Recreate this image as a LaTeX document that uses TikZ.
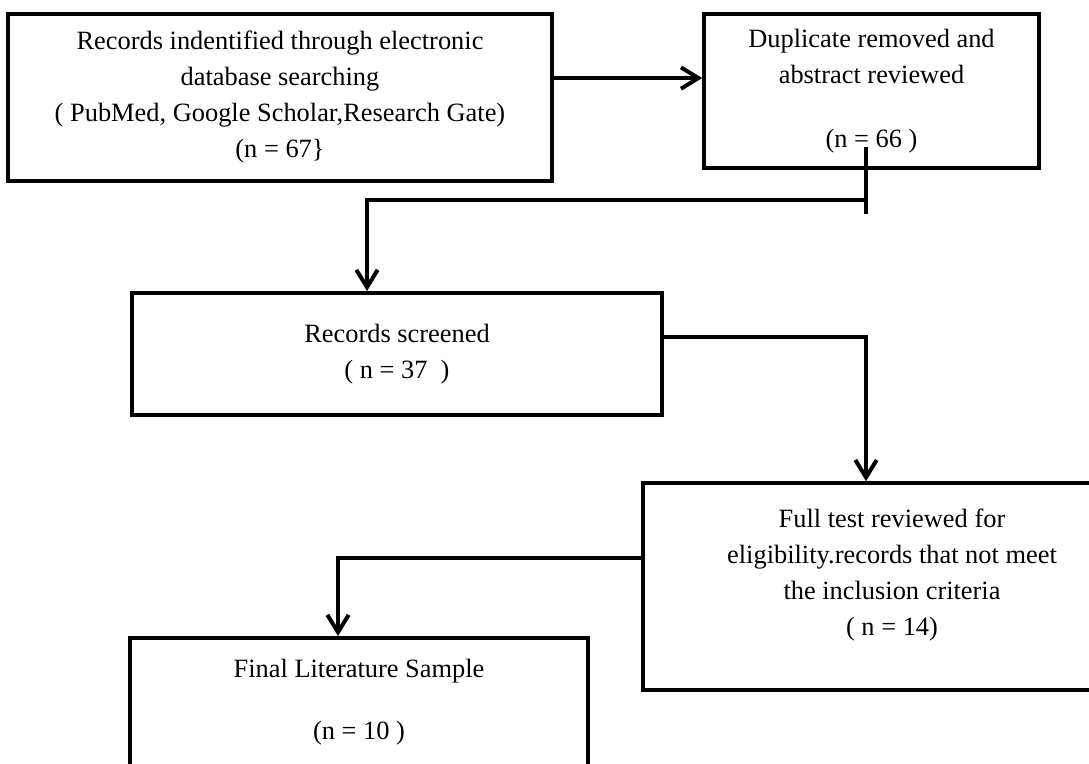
\documentclass[tikz,border=0pt]{standalone}
\usepackage{fontspec}
\setmainfont{Liberation Serif}
\usetikzlibrary{arrows.meta,positioning}

\begin{document}
\begin{tikzpicture}[x=0.75pt,y=-0.75pt,
  box/.style={draw,rectangle,line width=3pt,inner sep=0pt,align=center,font=\fontsize{19.8}{27}\selectfont},
  flow/.style={line width=3pt,-{Straight Barb[length=13pt,width=16pt]}}]

\useasboundingbox (0,0) rectangle (1089,764);
\clip (0,0) rectangle (1089,764);

  \node[box,minimum width=408pt,minimum height=125pt] (rec) at (280,97.5)
    {Records indentified through electronic\\database searching\\( PubMed, Google Scholar,Research Gate)\\(n = 67\}};
  \node[box,minimum width=251pt,minimum height=115.5pt] (dup) at (871.5,91)
    {Duplicate removed and\\abstract reviewed\\[21pt](n = 66 )};
  \node[box,minimum width=397.5pt,minimum height=91.5pt] (scr) at (397,354)
    {Records screened\\( n = 37\ \ )};
  \node[box,minimum width=373.5pt,minimum height=155pt] (elig) at (892,586.5)
    {Full test reviewed for\\eligibility.records that not meet\\the inclusion criteria\\( n = 14)\\[-6pt]\mbox{}};
  \node[box,minimum width=343.5pt,minimum height=96pt] (fin) at (359,702)
    {Final Literature Sample\\[19.5pt](n = 10 )};

  \coordinate (tee) at (866,200);

  \draw[flow] ([yshift=14.6pt]rec.east) -- ([yshift=14.6pt]rec.east -| dup.west);
  \draw[line width=3pt] ([xshift=-4.1pt,yshift=17pt]dup.south) -- ++(0,67);
  \draw[flow] (tee) -| ([xshift=-22.5pt]scr.north);
  \draw[flow] ([yshift=12.75pt]scr.east) -| ([xshift=-19.5pt]elig.north);
  \draw[flow] ([yshift=21.4pt]elig.west) -| ([xshift=-15.75pt]fin.north);
\end{tikzpicture}
\end{document}
